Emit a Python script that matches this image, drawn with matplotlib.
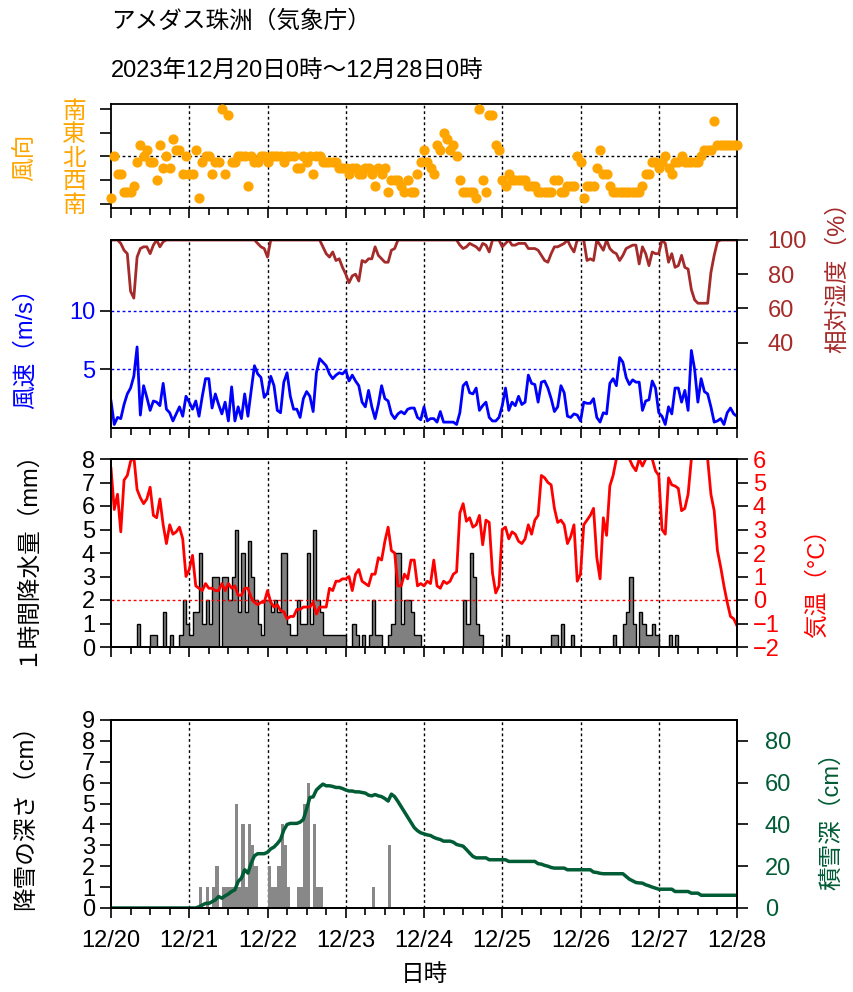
import numpy as np
import matplotlib
matplotlib.use("Agg")
import matplotlib.pyplot as plt
from matplotlib.ticker import MultipleLocator

plt.rcParams['font.family'] = ['Liberation Sans', 'Noto Sans CJK JP', 'DejaVu Sans']
plt.rcParams['font.size'] = 17
plt.rcParams['axes.linewidth'] = 1.3

# hours since 2023-12-20 00:00, hourly 0..192
day_labels = ['12/20', '12/21', '12/22', '12/23', '12/24', '12/25', '12/26', '12/27', '12/28']

# wind direction as 16-point index counted from south(0) -> west(4) -> north(8) -> east(12) -> south(16)
wind_dir16 = [1, 8, 5, 5, 2, 2, 2, 3, 7, 10, 8, 9, 7, 7, 4, 10, 6, 8, 6, 11,
              9, 9, 5, 8, 5, 5, 9, 1, 7, 8, 8, 5, 7, 7, 16, 5, 15, 7, 7, 8,
              8, 8, 3, 8, 7, 7, 8, 8, 7, 8, 8, 8, 8, 7, 8, 8, 8, 6, 6, 8,
              7, 8, 5, 8, 8, 7, 7, 7, 7, 7, 6, 6, 6, 5, 6, 6, 5, 5, 6, 6,
              5, 3, 6, 5, 6, 2, 4, 4, 4, 3, 2, 4, 2, 2, 5, 7, 9, 7, 6, 5,
              10, 9, 12, 11, 9, 10, 8, 4, 2, 2, 2, 2, 1, 16, 4, 2, 15, 15, 10, 9,
              4, 3, 5, 4, 4, 4, 4, 4, 3, 3, 3, 2, 2, 2, 2, 2, 4, 4, 2, 2,
              3, 3, 3, 8, 7, 1, 3, 3, 3, 6, 9, 5, 5, 3, 2, 2, 2, 2, 2, 2,
              2, 2, 2, 3, 5, 5, 7, 7, 6, 7, 8, 6, 5, 7, 7, 8, 7, 7, 7, 7,
              7, 8, 9, 9, 9, 14, 10, 10, 10, 10, 10, 10, 10]

wind_speed = [2.3, 0.3, 0.9, 0.8, 2.0, 2.9, 3.4, 4.4, 6.9, 1.1,
              3.6, 2.6, 1.5, 2.3, 2.2, 1.9, 3.8, 1.6, 1.3, 0.6,
              1.2, 1.8, 1.0, 2.7, 2.2, 1.6, 2.3, 1.0, 2.7, 4.2,
              4.2, 1.7, 2.9, 2.0, 1.2, 2.2, 0.6, 3.5, 0.6, 1.8,
              0.8, 2.9, 1.0, 3.2, 5.3, 4.6, 4.3, 2.6, 3.0, 4.4,
              3.6, 1.5, 1.3, 3.9, 4.7, 2.7, 1.6, 1.6, 0.9, 2.5,
              3.1, 2.7, 1.4, 4.7, 5.9, 5.6, 5.3, 4.6, 4.2, 4.5,
              4.7, 4.6, 4.9, 4.0, 4.5, 4.0, 3.6, 2.2, 1.8, 3.2,
              1.8, 0.8, 2.0, 3.6, 2.5, 2.3, 1.2, 0.8, 1.2, 1.4,
              1.2, 1.6, 1.7, 1.7, 0.9, 0.7, 1.8, 0.6, 0.8, 0.8,
              0.5, 1.4, 0.5, 0.5, 0.5, 0.5, 0.3, 1.3, 3.6, 3.9,
              3.0, 2.9, 3.4, 1.5, 1.9, 2.2, 0.9, 0.6, 0.6, 0.9,
              1.9, 3.4, 1.5, 2.2, 1.9, 2.7, 2.0, 2.2, 4.5, 3.8,
              3.7, 2.2, 3.9, 4.0, 3.4, 2.5, 1.4, 1.8, 3.6, 3.0,
              1.0, 0.9, 1.2, 1.1, 0.6, 2.2, 2.1, 2.1, 2.5, 0.9,
              0.5, 1.3, 1.2, 3.8, 4.2, 3.6, 6.0, 5.6, 4.3, 3.7,
              4.1, 3.9, 3.9, 1.5, 2.3, 2.4, 4.0, 3.4, 1.3, 1.0,
              0.3, 1.8, 1.2, 3.4, 3.4, 2.2, 3.2, 1.5, 6.6, 5.0,
              2.2, 4.2, 3.1, 2.9, 1.8, 0.5, 0.6, 0.8, 0.3, 1.3,
              1.7, 1.2, 1.0]

humidity = [100, 100, 100, 98, 94, 92, 70, 66, 90, 95,
            96, 96, 92, 97, 100, 96, 99, 100, 100, 100,
            100, 100, 100, 100, 100, 100, 100, 100, 100, 100,
            100, 100, 100, 100, 100, 100, 100, 100, 100, 100,
            100, 100, 100, 100, 100, 98, 96, 95, 90, 100,
            100, 100, 100, 100, 100, 100, 100, 100, 100, 100,
            100, 100, 100, 100, 100, 96, 92, 90, 93, 88,
            89, 84, 80, 75, 79, 80, 76, 88, 87, 89,
            89, 96, 91, 89, 87, 87, 94, 95, 100, 100,
            100, 100, 100, 100, 100, 100, 100, 100, 100, 100,
            100, 100, 100, 100, 100, 100, 100, 97, 95, 96,
            98, 97, 96, 94, 98, 97, 93, 100, 100, 100,
            96, 98, 100, 97, 97, 98, 98, 98, 95, 95,
            95, 94, 91, 88, 87, 92, 96, 96, 97, 98,
            100, 96, 93, 100, 100, 100, 88, 89, 88, 100,
            97, 94, 100, 95, 93, 92, 88, 91, 95, 96,
            97, 97, 86, 96, 92, 85, 93, 92, 92, 100,
            98, 87, 92, 84, 85, 91, 84, 83, 71, 65,
            63, 63, 63, 63, 81, 91, 99, 100, 100, 100,
            100, 100, 100]

temperature = [5.6, 3.85, 4.5, 2.9, 5.1, 5.3, 5.9, 6.1, 4.7, 4.35,
               4.1, 4.3, 4.8, 3.6, 3.5, 4.3, 3.2, 2.4, 3.2, 2.8,
               2.9, 3.1, 2.6, 1.0, 1.3, 1.9, 0.6, 0.5, 0.4, 0.7,
               0.5, 0.5, 0.4, 0.4, 0.7, 0.4, 0.7, 0.5, 0.6, 0.2,
               0.2, 0.5, 0.5, 0.1, -0.1, -0.2, -0.1, -0.1, 0.4, -0.1,
               -0.3, -0.2, -0.45, -0.5, -0.8, -0.7, -0.7, -0.4, -0.4, -0.3,
               -0.3, -0.3, -0.1, -0.6, -0.3, -0.3, -0.3, 0.5, 0.4, 0.8,
               0.8, 0.9, 0.9, 1.0, 0.4, 1.1, 1.3, 0.8, 0.7, 0.6,
               1.1, 1.1, 1.8, 1.7, 2.5, 3.1, 2.1, 2.0, 0.6, 0.6,
               1.1, 0.9, 1.7, 1.7, 0.6, 0.7, 0.6, 0.8, 0.7, 1.7,
               0.6, 0.5, 0.8, 0.7, 0.8, 1.1, 1.2, 3.7, 4.1, 3.35,
               3.5, 3.1, 3.2, 3.6, 2.35, 3.4, 3.3, 1.15, 0.3, 0.6,
               3.0, 3.1, 2.6, 2.9, 2.8, 2.5, 2.4, 2.6, 3.2, 2.8,
               3.4, 3.6, 5.3, 5.2, 5.0, 4.9, 3.9, 3.3, 3.4, 3.2,
               2.4, 2.7, 3.2, 0.8, 1.1, 3.2, 3.4, 3.6, 3.9, 1.8,
               0.9, 3.5, 2.75, 4.85, 5.3, 6.0, 6.4, 6.6, 6.5, 6.0,
               5.7, 5.5, 6.0, 5.7, 6.0, 6.1, 6.0, 5.5, 5.3, 3.0,
               2.8, 5.2, 4.9, 4.85, 4.75, 3.8, 3.9, 4.5, 6.0, 6.8,
               7.2, 7.0, 6.7, 6.0, 4.5, 3.8, 2.1, 1.4, 0.6, -0.1,
               -0.7, -0.8, -1.1]

# hourly precipitation (mm), keyed by the hour the period ends
precip_hour = [9, 13, 14, 17, 19, 22, 23, 24, 25, 26, 27, 28, 29, 30, 31, 32, 33,
               35, 36, 37, 38, 39, 40, 41, 42, 43, 44, 45, 46, 47, 48, 49, 50,
               51, 52, 53, 54, 55, 56, 57, 58, 59, 60, 61, 62, 63, 64, 65, 66,
               67, 68, 69, 70, 71, 72, 75, 76, 78, 80, 81, 82, 83, 86, 87, 88,
               89, 90, 91, 92, 93, 94, 95, 109, 110, 111, 112, 113, 114, 122,
               136, 137, 139, 142, 155, 158, 159, 160, 161, 163, 164, 165, 166,
               167, 168, 172, 174]
precip_mm = [1.0, 0.5, 0.5, 1.5, 0.5, 0.5, 2.0, 1.0, 0.5, 1.5, 1.5, 4.0, 1.0, 2.0, 1.0, 3.0, 3.0,
             3.0, 3.0, 2.0, 3.0, 5.0, 1.5, 4.0, 1.5, 4.5, 3.0, 2.0, 1.0, 0.5, 2.0, 2.0, 1.5,
             2.0, 1.5, 4.0, 4.0, 1.0, 0.5, 0.5, 2.0, 1.0, 1.0, 4.0, 1.0, 5.0, 2.0, 1.5, 0.5,
             0.5, 0.5, 0.5, 0.5, 0.5, 0.5, 1.0, 0.5, 0.5, 0.5, 2.0, 0.5, 0.5, 0.5, 1.0, 4.0,
             4.0, 1.0, 2.0, 2.0, 1.5, 0.5, 0.5, 2.0, 1.0, 4.0, 3.0, 1.0, 0.5, 0.5,
             0.5, 0.5, 1.0, 0.5, 0.5, 1.0, 1.5, 3.0, 1.0, 1.5, 1.0, 0.5, 0.5,
             1.0, 0.5, 0.5, 0.5]

# hourly snowfall (cm)
snow_hour = [28, 30, 32, 33, 35, 36, 37, 38, 39, 40, 41, 42, 43, 44, 45,
             49, 50, 51, 52, 53, 54, 55, 58, 59, 60, 61, 63, 64, 65, 81, 86]
snow_cm = [1, 1, 1, 2, 1, 1, 1, 1, 5, 1, 4, 1, 4, 3, 2,
           2, 1, 1, 2, 4, 3, 1, 1, 1, 5, 6, 4, 1, 1, 1, 3]

snow_depth = [0] * 27 + [
    0.6, 1.4, 2.2, 2.2, 3, 3.9, 5.5, 4.7, 5.8, 6.7, 7.9, 8.7, 12.7,
    14.3, 18.3, 16.7, 21.5, 25, 26, 26, 26, 26.7, 28.3, 29.2, 30.8, 32.8,
    37.3, 40, 40.5, 40.5, 40.5, 41.1, 42.4, 47.5, 52.9, 53.2, 56.5, 58,
    59.3, 58.5, 58.5, 58.2, 57.7, 57.7, 57.2, 56.5, 56, 56, 55.6, 55.6,
    55.3, 55, 54, 53.7, 54.3, 53.7, 53.3, 52.4, 51.2, 54.5, 53.3, 51,
    48.5, 46, 43.5, 41, 38.5, 37, 36, 35.5, 35, 34.7, 33.8, 33.2, 32.8,
    32, 32, 32, 31.5, 30.4, 30, 29.6, 28, 26.3, 24.7, 24, 24, 24, 24,
    23.1, 23.1, 23.1, 23.1, 23.1, 23.1, 22.3, 22.3, 22.3, 22.3, 22.3,
    22.3, 22.3, 22.3, 22.3, 21.2, 21, 20.4, 20, 19.4, 19.1, 19.1, 19.1,
    19.1, 18.3, 18.3, 18.3, 18.3, 18.3, 18.3, 18.3, 18.3, 17.2, 17, 16.6,
    16.4, 16.4, 16.4, 16.4, 16.4, 16.4, 16.4, 15.1, 13.8, 13, 12.2, 12,
    11.9, 11.1, 10.6, 10, 9.5, 9, 9, 9, 9, 9, 7.9, 7.9, 7.9, 7.9, 7.9,
    7.1, 7.1, 7.1, 6.1, 6.1, 6.1, 6.1, 6.1, 6.1, 6.1, 6.1, 6.1, 6.1,
    6.1, 6.1]

hours = np.arange(len(wind_speed))
edges = np.arange(0, 193)
precip = np.zeros(193)
precip[precip_hour] = precip_mm

W, H = 854, 992
fig = plt.figure(figsize=(W / 100, H / 100), dpi=100)


def box(top, bottom):
    return [111 / W, 1 - bottom / H, 626 / W, (bottom - top) / H]


def style_x(ax, labels=False):
    ax.set_xlim(0, 192)
    ax.set_xticks(range(0, 193, 24))
    ax.xaxis.set_minor_locator(MultipleLocator(6))
    ax.tick_params(axis='x', which='major', direction='out', length=7, width=1.2)
    ax.tick_params(axis='x', which='minor', direction='out', length=5, width=1.2)
    if labels:
        ax.set_xticklabels(day_labels)
        ax.tick_params(axis='x', pad=9)
    else:
        ax.set_xticklabels([])
    for d in range(24, 192, 24):
        ax.axvline(d, color='black', linestyle=(0, (2, 2)), lw=1, zorder=0.5)


dot = (0, (2, 2))
orange = '#FFA500'
brown = '#A52A2A'
green = '#005C35'

# --- wind direction
ax1 = fig.add_axes(box(104, 208))
style_x(ax1)
ax1.scatter(hours, 180 + 22.5 * np.array(wind_dir16), s=40, color=orange, zorder=3, clip_on=False)
ax1.set_ylim(163, 560)
ax1.set_yticks([180, 270, 360, 450, 540])
ax1.set_yticklabels(['南', '西', '北', '東', '南'])
ax1.tick_params(axis='y', labelcolor=orange, direction='out', length=8, width=1.2, pad=10)
ax1.axhline(360, color='black', linestyle=dot, lw=1, zorder=0.5)

# --- wind speed / humidity
ax2 = fig.add_axes(box(240, 428))
style_x(ax2)
ax2.plot(hours, wind_speed, color='#0000FF', lw=2)
ax2.set_ylim(0, 16)
ax2.set_yticks([5, 10])
ax2.tick_params(axis='y', labelcolor='#0000FF', direction='out', length=8, width=1.2)
for v in (5, 10):
    ax2.axhline(v, color='#0000FF', linestyle=dot, lw=1, zorder=0.5)
ax2b = ax2.twinx()
ax2b.plot(hours, humidity, color=brown, lw=2)
ax2b.set_ylim(-10, 100)
ax2b.set_yticks([40, 60, 80, 100])
ax2b.tick_params(axis='y', labelcolor=brown, direction='out', length=8, width=1.2, pad=14)

# --- precipitation / temperature
ax3 = fig.add_axes(box(459, 647))
style_x(ax3)
ax3.stairs(precip[1:], edges, fill=True, color='#808080', zorder=1)
ax3.stairs(precip[1:], edges, fill=False, color='black', lw=1, baseline=0, zorder=1.5)
ax3.set_ylim(0, 8)
ax3.set_yticks(range(0, 9))
ax3.tick_params(axis='y', direction='out', length=8, width=1.2)
ax3b = ax3.twinx()
ax3b.axhline(0, color='#FF0000', linestyle=dot, lw=1)
ax3b.plot(hours, temperature, color='#FF0000', lw=2)
ax3b.set_ylim(-2, 6)
ax3b.set_yticks(range(-2, 7))
ax3b.tick_params(axis='y', labelcolor='#FF0000', direction='out', length=8, width=1.2)

# --- snowfall / snow depth
ax4 = fig.add_axes(box(720, 908))
style_x(ax4, labels=True)
ax4.bar(np.array(snow_hour) - 0.5, snow_cm, width=1, color='#888888', lw=0)
ax4.set_ylim(0, 9)
ax4.set_yticks(range(0, 10))
ax4.tick_params(axis='y', direction='out', length=8, width=1.2)
ax4b = ax4.twinx()
ax4b.plot(hours, snow_depth, color=green, lw=2.5)
ax4b.set_ylim(0, 90)
ax4b.set_yticks(range(0, 81, 20))
ax4b.tick_params(axis='y', labelcolor=green, direction='out', length=8, width=1.2, pad=12)

# titles and axis labels
fig.text(111 / W, 1 - 22 / H, 'アメダス珠洲（気象庁）', ha='left', va='center')
fig.text(111 / W, 1 - 72 / H, '2023年12月20日0時～12月28日0時', ha='left', va='center')
fig.text(424 / W, 1 - 975 / H, '日時', ha='center', va='center')


def vlabel(x, y, s, color):
    fig.text(x / W, 1 - y / H, s, rotation=90, ha='center', va='center', color=color)


vlabel(26, 157, '風向', orange)
vlabel(26, 343, '風速（m/s）', '#0000FF')
vlabel(838, 272, '相対湿度（%）', brown)
vlabel(26, 552, '１時間降水量（mm）', 'black')
vlabel(818, 578, '気温（°C）', '#FF0000')
vlabel(26, 812, '降雪の深さ（cm）', 'black')
vlabel(832, 815, '積雪深（cm）', green)

fig.savefig('out.png', dpi=100)
